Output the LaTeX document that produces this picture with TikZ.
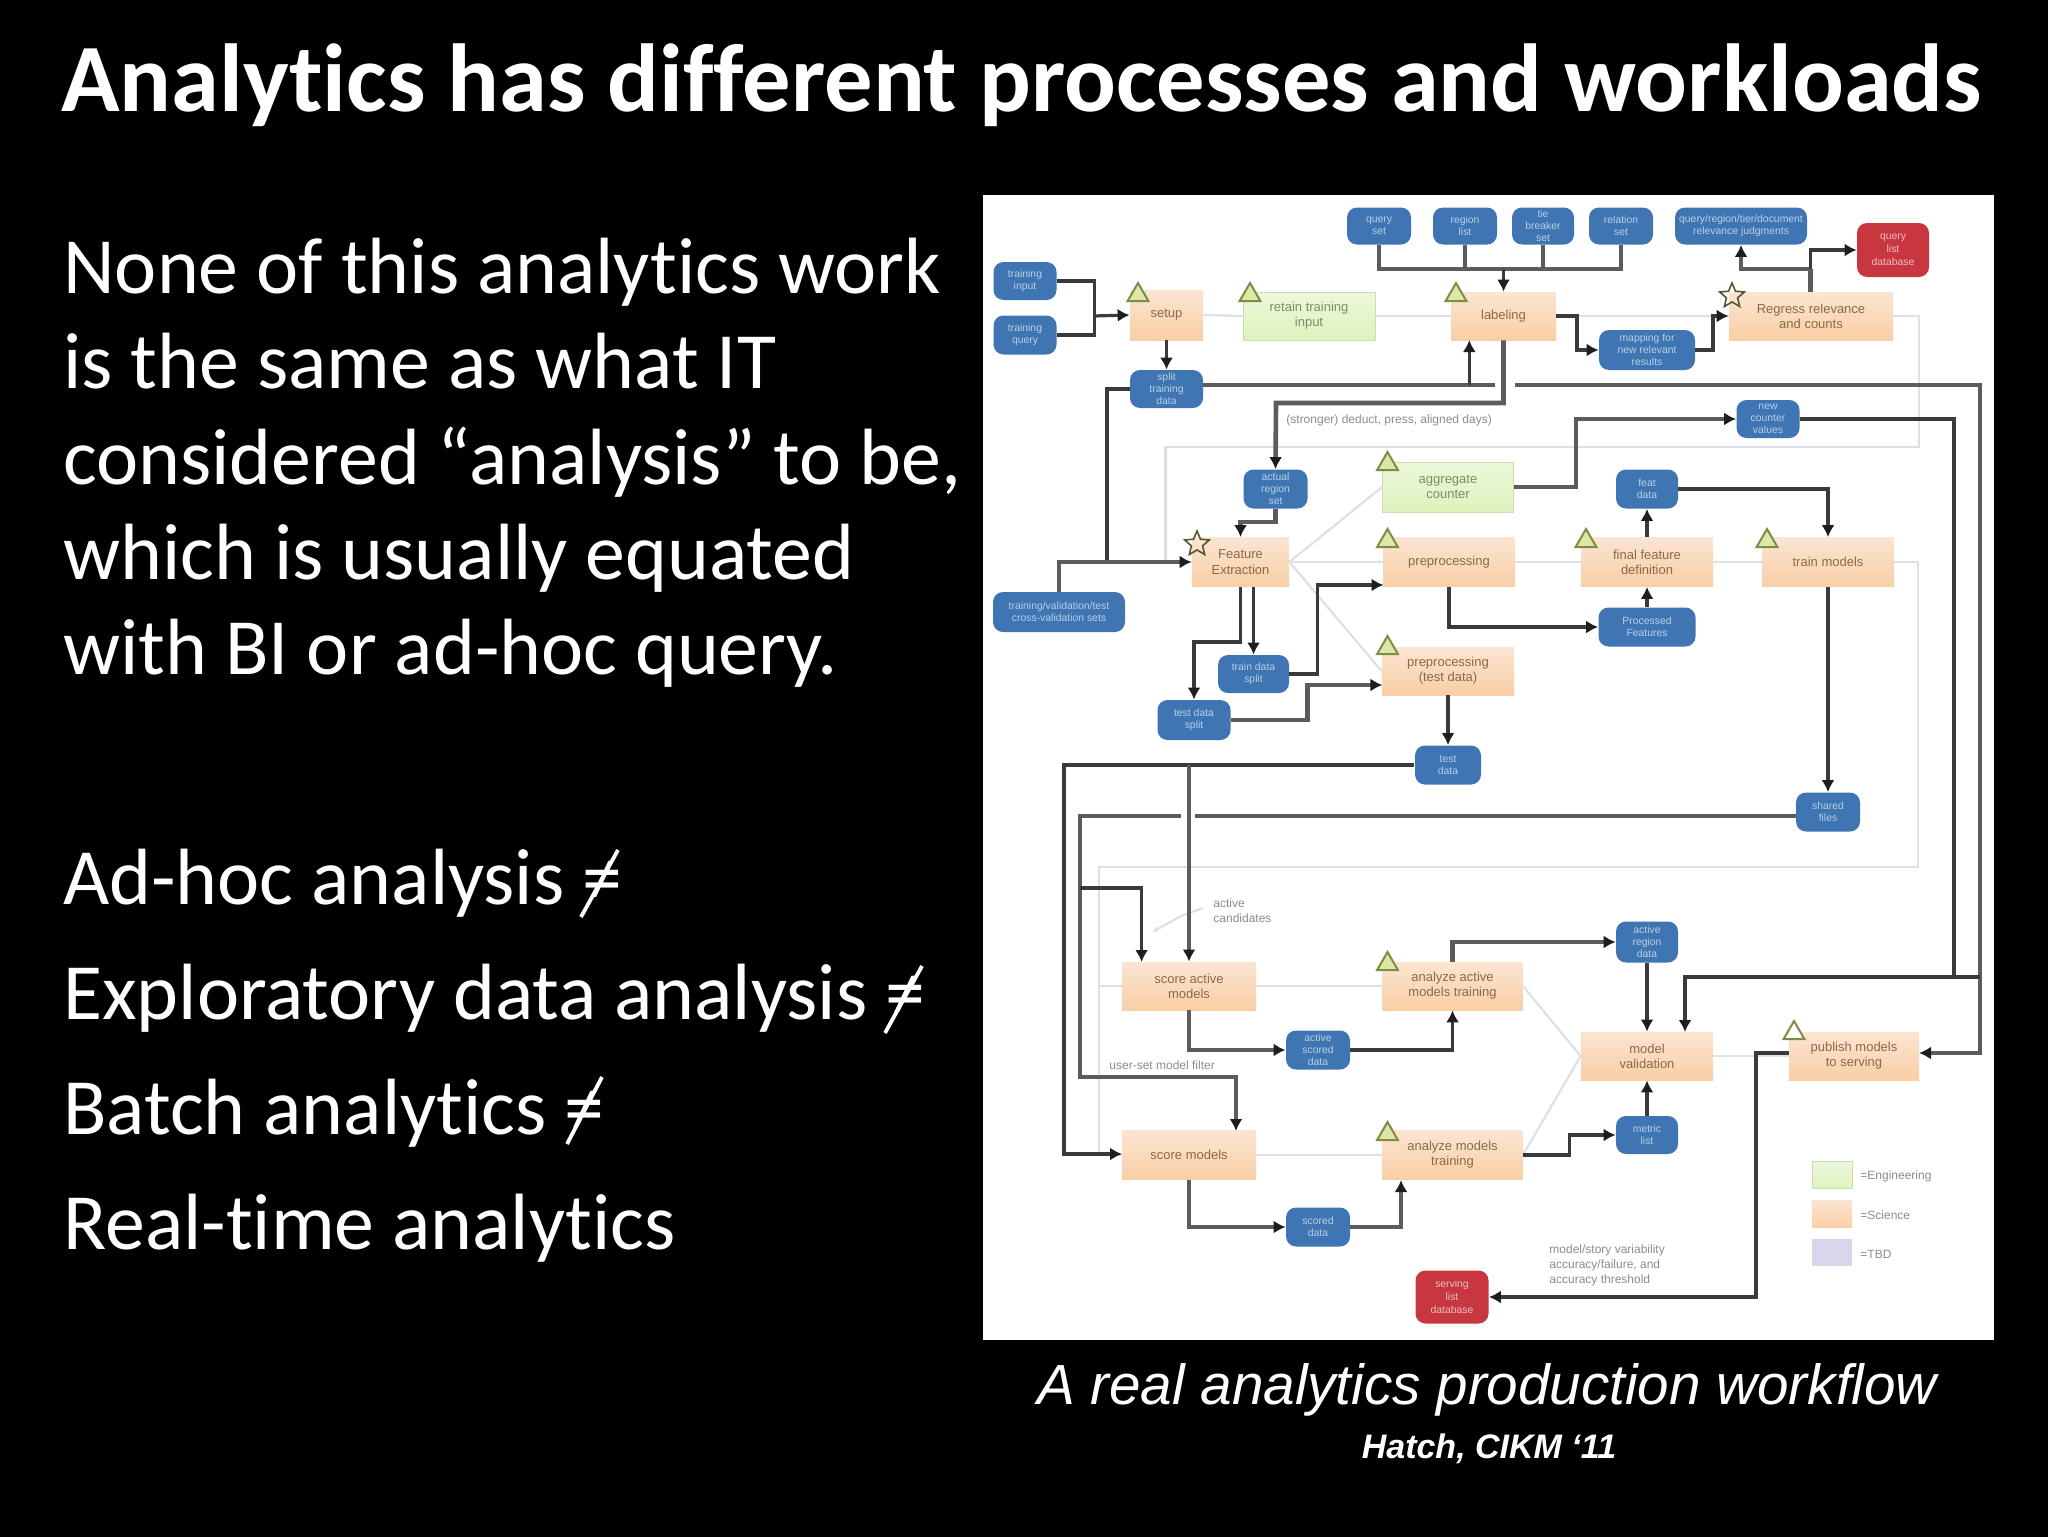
\documentclass[tikz,border=0pt]{standalone}
\usepackage{fontspec}
\setmainfont[Ligatures=NoCommon]{Carlito}
\newfontfamily\arialf{Liberation Sans}
\usetikzlibrary{arrows.meta,shapes.geometric}
\tikzset{
  box/.style 2 args={minimum width=#1*0.5pt,minimum height=#2*0.5pt,inner sep=0pt,align=center,font=\arialf\fontsize{6.5}{7.6}\selectfont},
  orange/.style 2 args={box={#1}{#2},top color=orangeTop,bottom color=orangeBot,text=orangeText},
  greenbox/.style 2 args={box={#1}{#2},top color=greenTop,bottom color=greenBot,draw=greenEdge,line width=0.4pt,text=greenText},
  blue/.style 2 args={box={#1}{#2},fill=dbBlue,rounded corners=5pt,text=dbText,font=\arialf\fontsize{5.2}{5.9}\selectfont},
  red/.style 2 args={box={#1}{#2},fill=dbRed,rounded corners=5pt,text=dbRedText,font=\arialf\fontsize{5.2}{6.6}\selectfont},
  flow/.style={draw=lineDark,line width=1.6pt},
  flowT/.style={draw=lineGrey,line width=2.3pt},
  arr/.style={-{Latex[length=6pt,width=6.5pt,color=tipDark]}},
  faint/.style={draw=lineFaint,line width=1.1pt},
  tri/.style={regular polygon,regular polygon sides=3,draw=triEdge,fill=triFill,line width=1pt,minimum size=12pt,inner sep=0pt},
  starm/.style={star,star points=5,star point ratio=2.2,draw=starEdge,line width=0.8pt,minimum size=13pt,inner sep=0pt},
  note/.style={text=noteGrey,align=left,font=\arialf\fontsize{6}{7.5}\selectfont,inner sep=0pt},
  body/.style={anchor=base west,inner sep=0pt,text=white,font=\fontsize{39.9}{46}\selectfont},
  slashmark/.style={draw=white,line width=1.9pt},
}
\definecolor{orangeTop}{HTML}{FBE5D2}
\definecolor{orangeBot}{HTML}{F9CEA5}
\definecolor{orangeText}{HTML}{8A6A48}
\definecolor{greenTop}{HTML}{EDF8DC}
\definecolor{greenBot}{HTML}{DDF2BC}
\definecolor{greenEdge}{HTML}{C9DDB0}
\definecolor{greenText}{HTML}{7F8E62}
\definecolor{dbBlue}{HTML}{3F75B2}
\definecolor{dbText}{HTML}{B9CFE6}
\definecolor{dbRed}{HTML}{C8363F}
\definecolor{dbRedText}{HTML}{EDBFC2}
\definecolor{lineDark}{HTML}{3A3A3A}
\definecolor{lineGrey}{HTML}{5C5C5C}
\definecolor{tipDark}{HTML}{1E1E1E}
\definecolor{lineFaint}{HTML}{DCE1E6}
\definecolor{triEdge}{HTML}{7E8C48}
\definecolor{triFill}{HTML}{DDE7A6}
\definecolor{starEdge}{HTML}{4F5A34}
\definecolor{noteGrey}{HTML}{8C8C8C}
\definecolor{lilac}{HTML}{D9D5EC}
\begin{document}
\begin{tikzpicture}[x=0.5pt,y=-0.5pt]
\useasboundingbox (0,0) rectangle (2048,1536);
\fill[black] (-4,-4) rectangle (2052,1540);
\fill[white] (983,195) rectangle (1994,1340);

% slide text
\node[anchor=base west,inner sep=0pt,text=white,font=\bfseries\fontsize{48.3}{54}\selectfont] (title) at (61,112) {Analytics has different processes and workloads};
\node[body] (b1) at (63,293) {None of this analytics work};
\node[body] (b2) at (63,388) {is the same as what IT};
\node[body] (b3) at (63,484) {considered “analysis” to be,};
\node[body] (b4) at (63,579) {which is usually equated};
\node[body] (b5) at (63,674) {with BI or ad-hoc query.};
\node[body] (c1) at (63,904) {Ad-hoc analysis ≠};
\node[body] (c2) at (63,1019) {Exploratory data analysis ≠};
\node[body] (c3) at (63,1134) {Batch analytics ≠};
\node[body] (c4) at (63,1249) {Real-time analytics};
\coordinate (sl1a) at (581,917); \coordinate (sl1b) at (618,850);
\coordinate (sl2a) at (885,1033); \coordinate (sl2b) at (922,966);
\coordinate (sl3a) at (567,1144); \coordinate (sl3b) at (602,1077);
\draw[slashmark] (sl1a) -- (sl1b);
\draw[slashmark] (sl2a) -- (sl2b);
\draw[slashmark] (sl3a) -- (sl3b);
\node[anchor=base,inner sep=0pt,text=white,font=\arialf\itshape\fontsize{28.3}{34}\selectfont] (cap) at (1487,1404) {A real analytics production workflow};
\node[anchor=base,inner sep=0pt,text=white,font=\arialf\bfseries\itshape\fontsize{17}{20}\selectfont] (src) at (1489,1458) {Hatch, CIKM ‘11};

% named anchors for the faint frame lines
\coordinate (f1) at (1919,316);
\coordinate (f2) at (1919,447);
\coordinate (f3) at (1165.5,447);
\coordinate (f4) at (1165.5,562);
\coordinate (g1) at (1918,562);
\coordinate (g2) at (1918,867);
\coordinate (g3) at (1099,867);
\coordinate (g4) at (1099,986);
\coordinate (g5) at (1099,1155);
\coordinate (h1) at (1152,932);
\coordinate (h2) at (1183,915);
\coordinate (h3) at (1203,908);

% nodes
\node[blue={63}{38}] (a1) at (1025,281) {training\\input};
\node[blue={63}{39}] (a2) at (1025,335) {training\\query};
\node[orange={73}{50}] (sdsp) at (1166.5,315) {setup};
\node[greenbox={132}{48}] (ret) at (1309,316) {retain training\\input};
\node[orange={105}{48}] (lab) at (1503.5,316) {labeling};
\node[blue={64}{37}] (d1) at (1379,226) {query\\set};
\node[blue={64}{37}] (d2) at (1465,226) {region\\list};
\node[blue={62}{37}] (d3) at (1543,226) {tie\\breaker\\set};
\node[blue={64}{37}] (d4) at (1621,226) {relation\\set};
\node[blue={132}{37}] (d5) at (1741,226) {query/region/tier/document\\relevance judgments};
\node[red={72}{54}] (rtop) at (1893,250) {query\\list\\database};
\node[orange={164}{48}] (reg) at (1811,316) {Regress relevance\\and counts};
\node[blue={96}{40}] (map) at (1647,350) {mapping for\\new relevant\\results};
\node[blue={73}{38}] (split) at (1166.5,389) {split\\training\\data};
\node[blue={64}{39}] (act) at (1275.5,489) {actual\\region\\set};
\node[orange={97}{49}] (fe) at (1240.5,562) {Feature\\Extraction};
\node[greenbox={131}{50}] (agg) at (1448,487) {aggregate\\counter};
\node[orange={132}{49}] (pre) at (1449,562) {preprocessing};
\node[blue={132}{40}] (cv) at (1059,612) {training/validation/test\\cross-validation sets};
\node[orange={132}{49}] (ffd) at (1647,562) {final feature\\definition};
\node[orange={132}{49}] (tm) at (1828,562) {train models};
\node[blue={62}{39}] (feat) at (1647,489) {feat\\data};
\node[blue={63}{38}] (newc) at (1768,419) {new\\counter\\values};
\node[blue={97}{39}] (proc) at (1647,627) {Processed\\Features};
\node[orange={132}{48}] (pret) at (1448,671) {preprocessing\\(test data)};
\node[blue={71}{38}] (trd) at (1253.5,674) {train data\\split};
\node[blue={73}{40}] (ted) at (1194,720) {test data\\split};
\node[blue={66}{39}] (tst) at (1448,765) {test\\data};
\node[blue={64}{39}] (shf) at (1828,812) {shared\\files};
\node[orange={134}{48}] (sa) at (1189,986) {score active\\models};
\node[orange={140}{48}] (aa) at (1452.5,986) {analyze active\\models training};
\node[blue={62}{41}] (ard) at (1647,942) {active\\region\\data};
\node[orange={132}{48}] (mv) at (1647,1056) {model\\validation};
\node[orange={130}{48}] (pub) at (1854,1056) {publish models\\to serving};
\node[blue={64}{39}] (asd) at (1318,1050) {active\\scored\\data};
\node[orange={134}{49}] (sm) at (1189,1155) {score models};
\node[orange={140}{49}] (am) at (1452.5,1155) {analyze models\\training};
\node[blue={64}{39}] (sd) at (1318,1227) {scored\\data};
\node[blue={62}{38}] (ml) at (1647,1135) {metric\\list};
\node[red={73}{53}] (rbot) at (1452,1297) {serving\\list\\database};

% faint process lines
\draw[faint] (sdsp.east) -- (ret.west);
\draw[faint] (ret.east) -- (lab.west);
\draw[faint] (lab.east) -- (reg.west);
\draw[faint] (reg.east) -- (f1) -- (f2) -- (f3) -- (f4) -- (fe.west);
\draw[faint] (fe.east) -- (agg.west);
\draw[faint] (fe.east) -- (pre.west);
\draw[faint] (fe.east) -- (pret.west);
\draw[faint] (pre.east) -- (ffd.west);
\draw[faint] (ffd.east) -- (tm.west);
\draw[faint] (tm.east) -- (g1) -- (g2) -- (g3) -- (g4) -- (sa.west);
\draw[faint] (g4) -- (g5) -- (sm.west);
\draw[faint] (sa.east) -- (aa.west);
\draw[faint] (sm.east) -- (am.west);
\draw[faint] (aa.east) -- (mv.west);
\draw[faint] (am.east) -- (mv.west);
\draw[faint] (mv.east) -- (pub.west);
\draw[faint,-{Latex[length=3pt,width=3pt]}] (h3) -- (h2) -- (h1);

% connectors
\draw[flow] (a1.east) -- ++(37.5,0) |- (a2.east);
\coordinate (ja) at (1093.5,316);
\draw[flow,arr] (ja) -- (sdsp.west);
\draw[flow,arr] (sdsp.south) -- (split.north);
\coordinate (busR) at (1621,269);
\draw[flowT] (d1.south) |- (busR) -- (d4.south);
\draw[flowT] (d2.south) -- ++(0,24);
\draw[flowT] (d3.south) -- ++(0,24);
\coordinate (jt) at (1503.5,269);
\draw[flow,arr] (jt) -- (lab.north);
\coordinate (gapL) at (1495,385);
\coordinate (gapR) at (1515,385);
\coordinate (ls) at (1469.3,340);
\coordinate (lsj) at (1469.3,385);
\coordinate (split2) at (1203,385);
\draw[flowT] (split2) -- (gapL);
\draw[flow,arr] (lsj) -- (ls);
\coordinate (pubE) at (1919,1053);
\draw[flowT,arr] (gapR) -- (1980,385) |- (pubE);
\draw[flowT,arr] (lab.south) |- (1276,403) -- (act.north);
\coordinate (fej) at (1107,562);
\draw[flow] (split.west) -| (fej);
\draw[flowT,arr] (cv.north) |- (fe.west);
\coordinate (fe1) at (1240.5,587);
\coordinate (fe2) at (1253.5,587);
\draw[flowT,arr] (act.south) |- (1240.5,522) -- (fe.north);
\draw[flow,arr] (fe2) -- (trd.north);
\draw[flow,arr] (fe1) |- (1194,642) -- (ted.north);
\coordinate (preS) at (1383.5,585);
\draw[flow,arr] (trd.east) -| (1317.5,585) -- (preS);
\coordinate (pretW) at (1382.4,685);
\draw[flowT,arr] (ted.east) -| (1307.5,685) -- (pretW);
\draw[flowT,arr] (agg.east) -| (1576,419) -- (newc.west);
\coordinate (bus1) at (1980,977);
\coordinate (mvN) at (1685,1032);
\draw[flow,arr] (bus1) -| (mvN);
\coordinate (bus2) at (1954,977);
\draw[flow] (newc.east) -| (bus2);
\draw[flow,arr] (pre.south) |- (proc.west);
\draw[flow,arr] (proc.north) -- (ffd.south);
\draw[flow,arr] (ffd.north) -- (feat.south);
\draw[flow,arr] (feat.east) -| (tm.north);
\draw[flow,arr] (tm.south) -- (shf.north);
\coordinate (shW) at (1796,816);
\coordinate (brR) at (1195,816);
\coordinate (brL) at (1181,816);
\coordinate (smN) at (1236,1131);
\coordinate (saN) at (1141.6,962);
\draw[flowT] (shW) -- (brR);
\draw[flowT,arr] (brL) -| (1080,1077) -| (smN);
\draw[flow,arr] (1080,888) -| (saN);
\coordinate (tW) at (1414,765);
\coordinate (smW) at (1122,1154);
\draw[flow,arr] (tW) -| (1064,1154) -- (smW);
\coordinate (tbus) at (1189,765);
\draw[flowT,arr] (tbus) -- (sa.north);
\draw[flow,arr] (pret.south) -- (tst.north);
\draw[flowT,arr] (sa.south) |- (asd.west);
\draw[flow,arr] (asd.east) -| (aa.south);
\draw[flowT,arr] (sm.south) |- (sd.west);
\coordinate (amS) at (1401,1180);
\draw[flowT,arr] (sd.east) -| (amS);
\draw[flowT,arr] (aa.north) |- (ard.west);
\draw[flow,arr] (ard.south) -- (mv.north);
\draw[flow,arr] (am.east) -| (1569.5,1135) -- (ml.west);
\draw[flow,arr] (ml.north) -- (mv.south);
\coordinate (pubW) at (1789,1053);
\draw[flow,arr] (pubW) -| (1756,1297) -- (rbot.east);
\coordinate (regN) at (1810.5,292);
\coordinate (rj) at (1810.5,269);
\draw[flowT] (regN) -- (rj);
\draw[flowT,arr] (rj) -| (d5.south);
\draw[flow,arr] (rj) |- (rtop.west);
\draw[flow,arr] (lab.east) -| (1577,350) -- (map.west);
\draw[flow,arr] (map.east) -| (1713,316) -- (reg.west);

% triangles and stars
\node[tri] (t1) at (1138,295) {};
\node[tri] (t2) at (1250,295) {};
\node[tri] (t3) at (1456,295) {};
\node[tri] (t4) at (1387.5,464) {};
\node[tri] (t5) at (1387.5,541) {};
\node[tri] (t6) at (1586,541) {};
\node[tri] (t7) at (1767,541) {};
\node[tri] (t8) at (1387.5,648) {};
\node[tri] (t9) at (1387.5,964) {};
\node[tri] (t10) at (1387.5,1134) {};
\node[tri,fill=white] (t11) at (1794,1033) {};
\node[starm] (s1) at (1197,544) {};
\node[starm] (s2) at (1732,296) {};

% notes
\node[note,anchor=west] (n1) at (1286,420) {(stronger) deduct, press, aligned days)};
\node[note,anchor=north west] (n2) at (1213,898) {active\\candidates};
\node[note,anchor=west] (n3) at (1109,1065) {user-set model filter};
\node[note,anchor=north west] (n4) at (1549,1244) {model/story variability\\accuracy/failure, and\\accuracy threshold};

% legend
\node[greenbox={40}{27}] (l1) at (1832,1175) {};
\node[orange={40}{27}] (l2) at (1832,1214) {};
\node[box={40}{27},fill=lilac] (l3) at (1832,1252) {};
\node[note,anchor=west] (lt1) at (1860,1176) {=Engineering};
\node[note,anchor=west] (lt2) at (1860,1215) {=Science};
\node[note,anchor=west] (lt3) at (1860,1254) {=TBD};
\end{tikzpicture}
\end{document}
